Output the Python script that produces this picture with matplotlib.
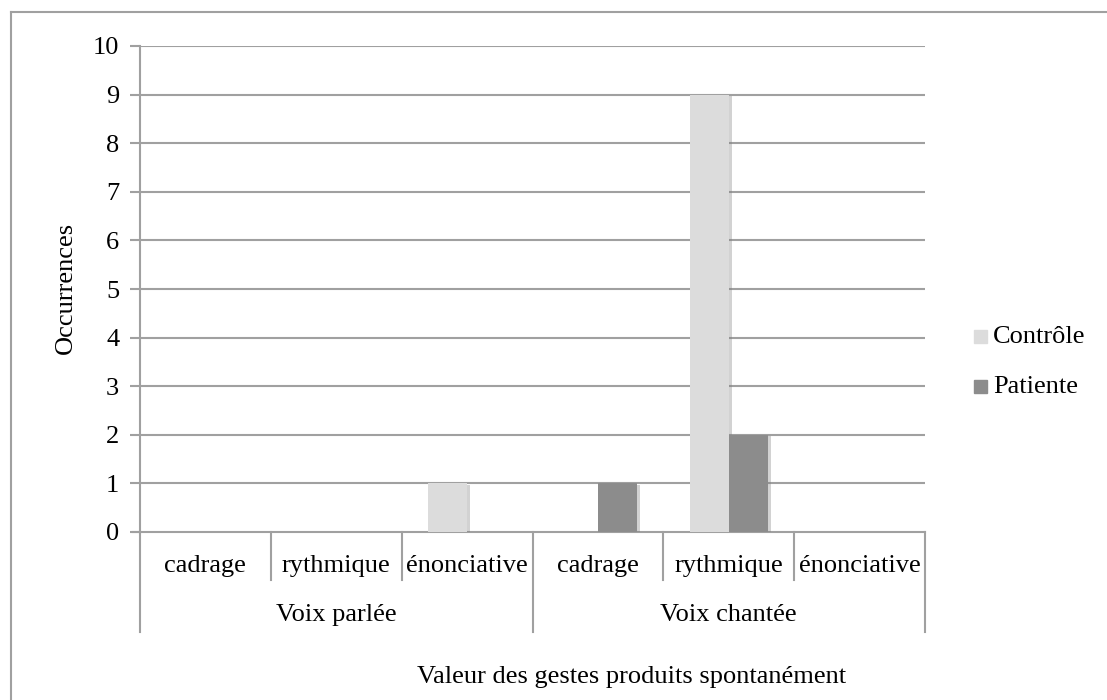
import matplotlib
matplotlib.use("Agg")
import matplotlib.pyplot as plt
from matplotlib.patches import Rectangle
from matplotlib.lines import Line2D
import matplotlib.patheffects as pe
import numpy as np

plt.rcParams['font.family'] = ['Liberation Serif', 'DejaVu Serif']

groups = ["Voix parlée", "Voix chantée"]
subcats = ["cadrage", "rythmique", "énonciative"]
series_names = ["Contrôle", "Patiente"]
controle = [0, 0, 1, 0, 9, 0]
patiente = [0, 0, 0, 1, 2, 0]
colors = ["#dcdcdc", "#8c8c8c"]
yticks = list(range(0, 11))
xlabel = "Valeur des gestes produits spontanément"
ylabel = "Occurrences"

W, H = 1107, 700
fig = plt.figure(figsize=(W/100, H/100), dpi=100)
L, R, T, B = 140, 925, 46, 532
ax = fig.add_axes([L/W, 1-B/H, (R-L)/W, (B-T)/H])

n = len(controle)
x = np.arange(n)
bw = 0.3
shadow = [pe.SimplePatchShadow(offset=(2, -1), shadow_rgbFace='#808080', alpha=0.35), pe.Normal()]
b1 = ax.bar(x - bw/2, controle, bw, color=colors[0], zorder=3, label=series_names[0])
b2 = ax.bar(x + bw/2, patiente, bw, color=colors[1], zorder=3, label=series_names[1])
for bars, vals in ((b1, controle), (b2, patiente)):
    for r, v in zip(bars, vals):
        if v > 0:
            r.set_path_effects(shadow)
        else:
            r.set_visible(False)

ax.set_xlim(-0.5, n-0.5)
ax.set_ylim(0, 10)
ax.set_yticks(yticks)
ax.set_yticklabels([str(v) for v in yticks], fontsize=19)
gc = '#a0a0a0'
ax.tick_params(axis='y', length=7, width=1.5, color=gc, pad=8)
ax.set_xticks([])
for v in yticks[1:]:
    ax.axhline(v, color=gc, lw=1.5, zorder=1)
for s in ['top', 'right']:
    ax.spines[s].set_visible(False)
ax.spines['left'].set_color(gc)
ax.spines['left'].set_linewidth(1.5)
ax.spines['bottom'].set_color(gc)
ax.spines['bottom'].set_linewidth(1.5)

def fx(px): return px / W
def fy(py): return 1 - py / H
gw = (R - L) / n
fig.add_artist(Line2D([fx(L-7), fx(L)], [fy(B), fy(B)], color=gc, lw=1.5))
for i in range(n + 1):
    xp = L + i * gw
    y2 = 632 if i % 3 == 0 else 580
    fig.add_artist(Line2D([fx(xp), fx(xp)], [fy(B), fy(y2)], color=gc, lw=1.5))
for i in range(n):
    fig.text(fx(L + (i + 0.5) * gw), fy(566), subcats[i % 3], ha='center', va='center', fontsize=19)
for g in range(2):
    fig.text(fx(L + (g * 3 + 1.5) * gw), fy(615), groups[g], ha='center', va='center', fontsize=19)

fig.text(fx(417), fy(677), xlabel, ha='left', va='center', fontsize=19)
fig.text(fx(66), fy(288), ylabel, ha='center', va='center', rotation=90, fontsize=19)

for k, (name, c) in enumerate(zip(series_names, colors)):
    yp = 337 + k * 50
    fig.add_artist(Rectangle((fx(974), fy(yp + 6)), 13/W, 13/H, color=c))
    fig.text(fx(993), fy(yp), name, ha='left', va='center', fontsize=19)

fig.add_artist(Line2D([fx(11), fx(11)], [fy(12), fy(700)], color=gc, lw=1.5))
fig.add_artist(Line2D([fx(11), fx(1107)], [fy(12), fy(12)], color=gc, lw=1.5))

fig.savefig("out.png", dpi=100)
